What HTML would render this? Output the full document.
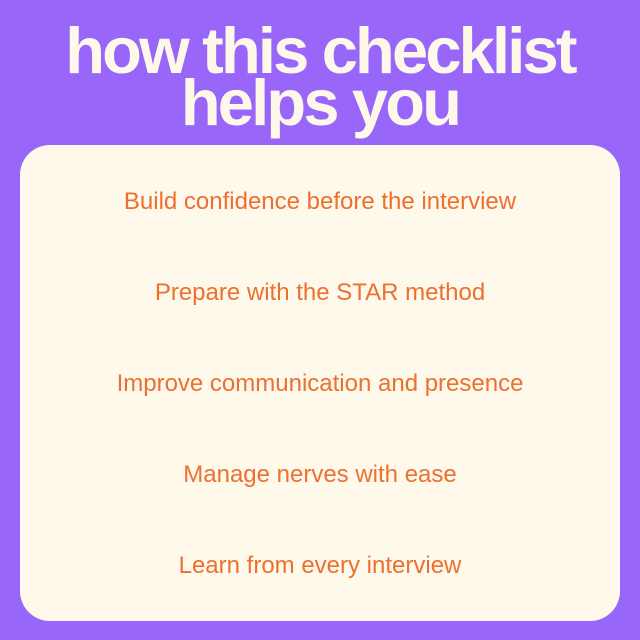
<!DOCTYPE html>
<html><head><meta charset="utf-8"><style>
html,body{margin:0;padding:0}
body{width:640px;height:640px;background:#9966FA;position:relative;overflow:hidden;font-family:"Liberation Sans",sans-serif}
.t{position:absolute;left:0;width:640px;text-align:center;color:#FEF8EA;font-weight:bold;font-size:65px;letter-spacing:-2.8px;line-height:52px}
.card{position:absolute;left:20px;top:145px;width:600px;height:476px;background:#FEF9EA;border-radius:30px}
.i{position:absolute;left:0;width:640px;text-align:center;color:#EC7030;font-size:24px;line-height:28px}
</style></head><body>
<div class="t" style="top:25px">how this checklist</div>
<div class="t" style="top:77px">helps you</div>
<div class="card"></div>
<div class="i" style="top:188px">Build confidence before the interview</div>
<div class="i" style="top:279px">Prepare with the STAR method</div>
<div class="i" style="top:370px">Improve communication and presence</div>
<div class="i" style="top:461px">Manage nerves with ease</div>
<div class="i" style="top:552px">Learn from every interview</div>
</body></html>
